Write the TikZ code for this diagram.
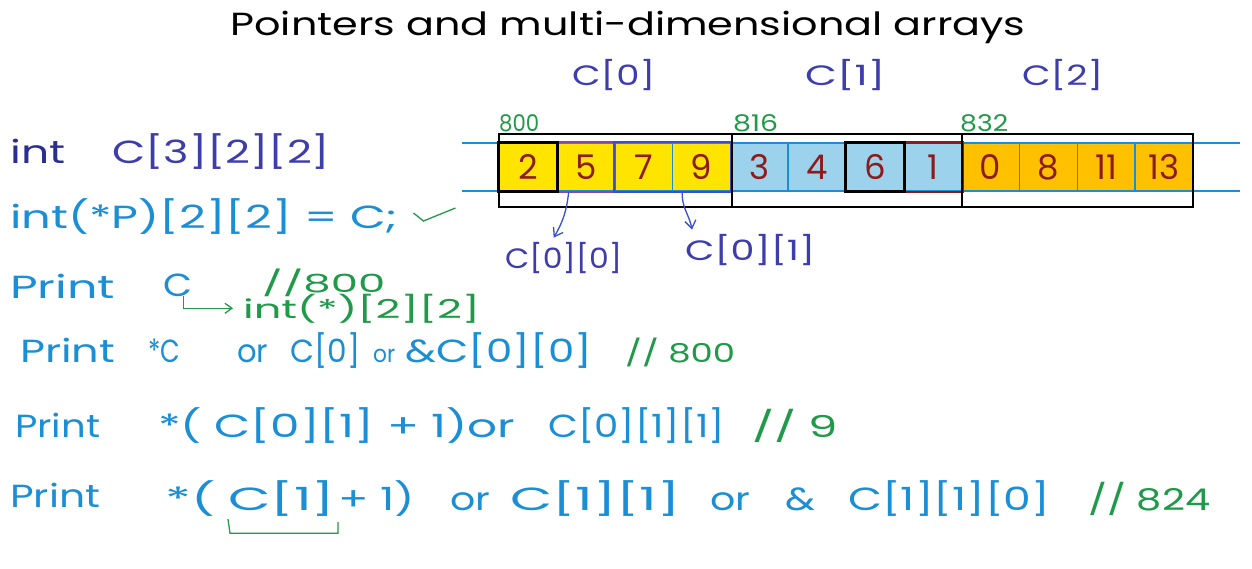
\documentclass[tikz,border=0pt]{standalone}
\usepackage{fontspec}
\setmainfont{Poppins}
\usepackage{graphicx}
\usetikzlibrary{arrows.meta,fit}
\definecolor{cyanb}{HTML}{1B8FD6}
\definecolor{purp}{HTML}{3D3DAE}
\definecolor{navy}{HTML}{2A2F8F}
\definecolor{grn}{HTML}{1F9A48}
\definecolor{dred}{HTML}{8E1B1B}
\definecolor{yel}{HTML}{FFE400}
\definecolor{lblue}{HTML}{9DD2EC}
\definecolor{orng}{HTML}{FFC000}
\definecolor{cellb}{HTML}{1A8CD8}
\definecolor{cpurp}{HTML}{8A4A9E}
\definecolor{cblue}{HTML}{3A4FD0}
\newcommand\tw[2]{\resizebox{#1pt}{\height}{#2}}
\begin{document}
\begin{tikzpicture}[x=1pt,y=-1pt,
  txt/.style={anchor=base west, inner sep=0pt, font=\fontsize{32}{36}\selectfont, text=cyanb},
  gtxt/.style={txt, text=grn, font=\fontsize{28}{32}\selectfont},
  ptxt/.style={txt, text=purp, font=\fontsize{28}{32}\selectfont},
  addr/.style={txt, text=grn, font=\fontsize{23}{26}\selectfont},
  cell/.style={draw=cellb, line width=1.5pt, minimum width=57.8pt, minimum height=48pt, inner sep=0pt, font=\fontsize{34}{36}\selectfont, text=dred},
  grp/.style={draw=black, line width=2pt, minimum height=73pt, inner sep=0pt},
  ovl/.style={inner sep=0pt, line width=2pt},
  parr/.style={draw=cblue, line width=1.3pt, -{Straight Barb[length=8pt,width=11pt]}},
  gline/.style={draw=grn, line width=1.3pt}
]
\useasboundingbox[fill=white] (0,0) rectangle (1252,568);

% title
\node[anchor=base, inner sep=0pt, font=\fontsize{32}{36}\selectfont] (title) at (628,35) {\tw{795}{Pointers and multi-dimensional arrays}};

% headers
\node[ptxt] (h0) at (572,85) {\tw{83}{C[0]}};
\node[ptxt] (h1) at (805,85) {\tw{80}{C[1]}};
\node[ptxt] (h2) at (1022,85) {\tw{81}{C[2]}};
\node[addr] (a0) at (499,131) {\tw{40}{800}};
\node[addr] (a1) at (733,131) {\tw{45}{816}};
\node[addr] (a2) at (960,131) {\tw{48}{832}};

% memory line
\draw[cellb, line width=2pt] (462,143) -- (1240,143);
\draw[cellb, line width=2pt] (462,191) -- (1240,191);

% cells
\node[cell, fill=yel] (c1) at (527.9,167) {2};
\node[cell, fill=yel] (c2) at (585.7,167) {5};
\node[cell, fill=yel] (c3) at (643.6,167) {7};
\node[cell, fill=yel] (c4) at (701.4,167) {9};
\node[cell, fill=lblue] (c5) at (759.2,167) {3};
\node[cell, fill=lblue] (c6) at (817.1,167) {4};
\node[cell, fill=lblue] (c7) at (874.9,167) {6};
\node[cell, fill=lblue] (c8) at (932.7,167) {1};
\node[cell, fill=orng] (c9) at (990.6,167) {0};
\node[cell, fill=orng] (c10) at (1048.4,167) {8};
\node[cell, fill=orng] (c11) at (1106.2,167) {11};
\node[cell, fill=orng] (c12) at (1164.1,167) {13};

% overlays
\node[ovl, draw=cpurp, fit=(c1)(c2)] (b00) {};
\node[ovl, draw=cblue, fit=(c3)(c4)] (b01) {};
\node[ovl, draw=dred, line width=2.5pt, fit=(c7)(c8)] (b11) {};
\node[ovl, draw=black, line width=3pt, fit=(c1)] (k1) {};
\node[ovl, draw=black, line width=3pt, fit=(c7)] (k7) {};

% groups
\node[grp, minimum width=233pt] (g0) at (615.5,170.5) {};
\node[grp, minimum width=230pt] (g1) at (847,170.5) {};
\node[grp, minimum width=231pt] (g2) at (1077.5,170.5) {};

% element labels
\node[ptxt] (l00) at (505,268) {\tw{117}{C[0][0]}};
\node[ptxt] (l01) at (685,260) {\tw{130}{C[0][1]}};
\draw[parr] ([xshift=-17pt]c2.south) to[bend left=12] ([xshift=-10pt,yshift=4pt]l00.north);
\draw[parr] ([xshift=-19pt]c4.south) to[out=-95,in=100] ([xshift=7pt,yshift=4pt]l01.north west);

% line 1
\node[txt, text=navy] (i1) at (10,163) {\tw{55}{int}};
\node[txt, text=purp] (dc) at (112,163) {\tw{218}{C[3][2][2]}};
% line 2
\node[txt] (l2) at (10,228) {\tw{388}{int(*P)[2][2] = C;}};
\draw[gline] ([shift={(15,-15)}]l2.base east) -- ++(10,8) -- ++(32,-13);
% line 3
\node[txt] (p3) at (10,298) {\tw{105}{Print}};
\node[txt] (pc) at (163,296) {\tw{29}{C}};
\node[gtxt, font=\fontsize{25}{28}\selectfont] (c3t) at (262,292) {\tw{123}{//800}};
\node[gtxt, font=\fontsize{26}{30}\selectfont] (ptype) at (243,318) {\tw{237}{int(*)[2][2]}};
\draw[gline, -{Straight Barb[length=7pt,width=10pt]}] ([xshift=6pt]pc.south) |- ([xshift=-10pt]ptype.west);
% line 4
\node[txt] (p4) at (20,362) {\tw{95}{Print}};
\node[txt] (s4a) at (148,362) {\tw{32}{*C}};
\node[txt] (o4a) at (237,362) {\tw{31}{or}};
\node[txt] (s4b) at (290,362) {\tw{70}{C[0]}};
\node[txt, font=\fontsize{24}{28}\selectfont] (o4b) at (373,362) {\tw{22}{or}};
\node[txt] (s4c) at (405,362) {\tw{187}{\&C[0][0]}};
\node[gtxt, font=\fontsize{26}{30}\selectfont] (c4t) at (625,362) {\tw{110}{// 800}};
% line 5
\node[txt] (p5) at (15,437) {\tw{85}{Print}};
\node[txt] (s5a) at (158,437) {\tw{357}{*( C[0][1] + 1)or}};
\node[txt] (s5b) at (548,437) {\tw{177}{C[0][1][1]}};
\node[gtxt, font=\fontsize{30}{34}\selectfont] (c5t) at (752,437) {\tw{86}{// 9}};
% line 6
\node[txt] (p6) at (10,507) {\tw{90}{Print}};
\node[txt] (s6a) at (165,510) {\tw{50}{*(}};
\node[txt] (s6b) at (228,510) {\tw{107}{C[1]}};
\node[txt] (s6c) at (338,510) {\tw{77}{+ 1)}};
\node[txt] (o6a) at (450,510) {\tw{40}{or}};
\node[txt] (s6d) at (510,510) {\tw{170}{C[1][1]}};
\node[txt] (o6b) at (710,510) {\tw{40}{or}};
\node[txt] (s6e) at (785,510) {\tw{30}{\&}};
\node[txt] (s6f) at (848,510) {\tw{202}{C[1][1][0]}};
\node[gtxt, font=\fontsize{30}{34}\selectfont] (c6t) at (1088,510) {\tw{122}{// 824}};
\draw[gline] ([yshift=-3pt]s6b.south west) -- ++(2,14) -- ++(108,0) -- ++(0,-11);
\end{tikzpicture}
\end{document}
